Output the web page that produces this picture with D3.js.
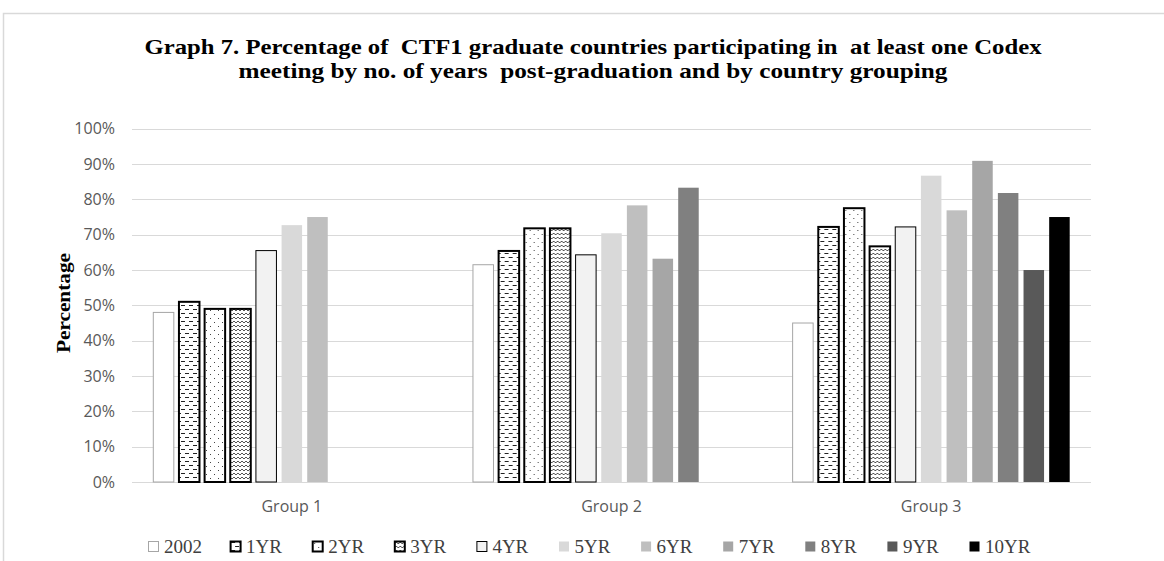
<!DOCTYPE html>
<html>
<head>
<meta charset="utf-8">
<script src="https://cdn.jsdelivr.net/npm/d3@7"></script>
<style>
  body { margin: 0; background: #fff; }
  svg { display: block; }
</style>
</head>
<body>
<script>
// chart values
var groups = ["Group 1", "Group 2", "Group 3"];
var seriesNames = ["2002", "1YR", "2YR", "3YR", "4YR", "5YR", "6YR", "7YR", "8YR", "9YR", "10YR"];
var group1 = [48, 51, 49, 49, 65.5, 72.7, 75, null, null, null, null];
var group2 = [61.5, 65.4, 71.8, 71.8, 64.3, 70.4, 78.3, 63.2, 83.3, null, null];
var group3 = [45, 72.2, 77.5, 66.7, 72.2, 86.7, 76.9, 90.9, 81.8, 60, 75];
var yTicks = [0, 10, 20, 30, 40, 50, 60, 70, 80, 90, 100];

var values = [group1, group2, group3];

var W = 1164, H = 561;
var svg = d3.select("body").append("svg")
  .attr("width", W)
  .attr("height", H);

// patterns for the first few series
var defs = svg.append("defs");

var pDash = defs.append("pattern").attr("id", "pDash")
  .attr("patternUnits", "userSpaceOnUse").attr("width", 8).attr("height", 8);
pDash.append("rect").attr("width", 8).attr("height", 8).attr("fill", "#fff");
pDash.append("rect").attr("x", 1).attr("y", 1).attr("width", 4).attr("height", 1).attr("fill", "#222");
pDash.append("rect").attr("x", 5).attr("y", 5).attr("width", 3).attr("height", 1).attr("fill", "#222");
pDash.append("rect").attr("x", 0).attr("y", 5).attr("width", 1).attr("height", 1).attr("fill", "#222");

var pDot = defs.append("pattern").attr("id", "pDot")
  .attr("patternUnits", "userSpaceOnUse").attr("width", 8).attr("height", 8);
pDot.append("rect").attr("width", 8).attr("height", 8).attr("fill", "#fff");
pDot.append("rect").attr("x", 2).attr("y", 2).attr("width", 1).attr("height", 1).attr("fill", "#444");
pDot.append("rect").attr("x", 6).attr("y", 6).attr("width", 1).attr("height", 1).attr("fill", "#444");

var pZig = defs.append("pattern").attr("id", "pZig")
  .attr("patternUnits", "userSpaceOnUse").attr("width", 4).attr("height", 4);
pZig.append("rect").attr("width", 4).attr("height", 4).attr("fill", "#fff");
pZig.append("path").attr("d", "M0,3 L2,1 L4,3").attr("fill", "none")
  .attr("stroke", "#555").attr("stroke-width", 1);

var fills = ["#ffffff", "url(#pDash)", "url(#pDot)", "url(#pZig)", "#f2f2f2",
  "#d9d9d9", "#bfbfbf", "#a6a6a6", "#808080", "#595959", "#000000"];
var strokes = ["#a6a6a6", "#000", "#000", "#000", "#000", "none", "none", "none", "none", "none", "none"];
var strokeW = [1, 2, 2, 2, 1, 0, 0, 0, 0, 0, 0];

// outer chart frame
svg.append("rect")
  .attr("x", 3.5).attr("y", 13.5)
  .attr("width", 1300).attr("height", 700)
  .attr("fill", "none").attr("stroke", "#d9d9d9").attr("stroke-width", 1.5);

// title
var title = svg.append("text")
  .attr("text-anchor", "middle")
  .style("font-family", "'Liberation Serif', serif")
  .style("font-weight", "bold")
  .style("font-size", "21px")
  .style("white-space", "pre")
  .attr("fill", "#000");
title.append("tspan").attr("x", 593).attr("y", 54)
  .attr("textLength", 897).attr("lengthAdjust", "spacingAndGlyphs")
  .text("Graph 7. Percentage of  CTF1 graduate countries participating in  at least one Codex");
title.append("tspan").attr("x", 593).attr("y", 78)
  .attr("textLength", 709).attr("lengthAdjust", "spacingAndGlyphs")
  .text("meeting by no. of years  post-graduation and by country grouping");

// scales
var x0 = d3.scaleBand().domain(groups).range([132, 1091]).padding(0);
var x1 = d3.scaleBand().domain(seriesNames).range([0, x0.bandwidth()])
  .paddingInner(0.2).paddingOuter(0.83);
var y = d3.scaleLinear().domain([0, 100]).range([482, 128.7]);

// gridlines
svg.append("g").selectAll("line").data(yTicks).enter().append("line")
  .attr("x1", 132).attr("x2", 1091)
  .attr("y1", function(d) { return Math.round(y(d)) + 0.5; })
  .attr("y2", function(d) { return Math.round(y(d)) + 0.5; })
  .attr("stroke", "#d9d9d9").attr("stroke-width", 1);

// y axis labels
svg.append("g").selectAll("text").data(yTicks).enter().append("text")
  .attr("x", 115).attr("y", function(d) { return y(d); })
  .attr("dy", "0.35em")
  .attr("text-anchor", "end")
  .style("font-family", "'Open Sans', sans-serif")
  .style("font-size", "16px")
  .attr("fill", "#595959")
  .text(function(d) { return d + "%"; });

svg.append("text")
  .attr("transform", "translate(70,303) rotate(-90)")
  .attr("text-anchor", "middle")
  .attr("textLength", 100).attr("lengthAdjust", "spacingAndGlyphs")
  .style("font-family", "'Liberation Serif', serif")
  .style("font-weight", "bold")
  .style("font-size", "18px")
  .attr("fill", "#000")
  .text("Percentage");

// bars
var gGroups = svg.append("g").selectAll("g").data(groups).enter().append("g")
  .attr("transform", function(d) { return "translate(" + x0(d) + ",0)"; });

gGroups.selectAll("rect")
  .data(function(d, gi) {
    return seriesNames.map(function(s, si) { return { s: s, i: si, v: values[gi][si] }; })
      .filter(function(e) { return e.v != null; });
  })
  .enter().append("rect")
  .attr("x", function(d) { return x1(d.s); })
  .attr("y", function(d) { return y(d.v); })
  .attr("width", x1.bandwidth())
  .attr("height", function(d) { return y(0) - y(d.v); })
  .attr("fill", function(d) { return fills[d.i]; })
  .attr("stroke", function(d) { return strokes[d.i]; })
  .attr("stroke-width", function(d) { return strokeW[d.i]; });

// group labels
svg.append("g").selectAll("text").data(groups).enter().append("text")
  .attr("x", function(d) { return x0(d) + x0.bandwidth() / 2; })
  .attr("y", 512)
  .attr("text-anchor", "middle")
  .style("font-family", "'Open Sans', sans-serif")
  .style("font-size", "16px")
  .attr("fill", "#595959")
  .text(function(d) { return d; });

// legend
var legend = svg.append("g").selectAll("g").data(seriesNames).enter().append("g")
  .attr("transform", function(d, i) { return "translate(" + (148 + i * 82.1) + ",541)"; });

legend.append("rect")
  .attr("x", 0.5).attr("y", 0.5)
  .attr("width", 10).attr("height", 10)
  .attr("fill", function(d, i) { return fills[i]; })
  .attr("stroke", function(d, i) { return strokes[i]; })
  .attr("stroke-width", function(d, i) { return strokeW[i]; });

legend.append("text")
  .attr("x", 16).attr("y", 11.5)
  .style("font-family", "'Liberation Serif', serif")
  .style("font-size", "19px")
  .attr("fill", "#404040")
  .text(function(d) { return d; });
</script>
</body>
</html>
